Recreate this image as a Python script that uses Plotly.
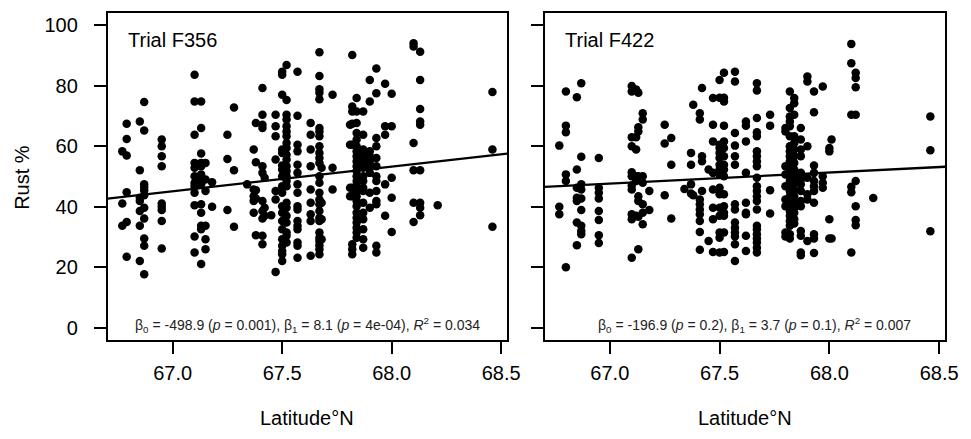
"""
Rust % against latitude for two trials (F356, F422), R-style base graphics look.
"""
import plotly.graph_objects as go

# latitude of each column of points and the rust values stacked in it
F356_LAT = [66.77, 66.79, 66.85, 66.87, 66.95, 67.10, 67.13, 67.15, 67.18, 67.25,
            67.28, 67.34, 67.37, 67.38, 67.41, 67.42, 67.45, 67.47, 67.50, 67.52,
            67.57, 67.63, 67.67, 67.68, 67.73, 67.81, 67.82, 67.84, 67.87, 67.90,
            67.93, 67.97, 68.00, 68.10, 68.13, 68.21, 68.46]
F356_RUST = [
    [58.3, 41.1, 33.7],
    [67.4, 62.4, 56.9, 44.8, 35.0, 23.5],
    [68.2, 52.1, 43.0, 41.9, 38.6, 33.7, 22.1],
    [74.6, 65.2, 47.4, 46.5, 45.5, 43.8, 39.7, 36.1, 29.5, 27.1, 17.7],
    [62.2, 60.0, 56.7, 53.4, 41.1, 40.0, 38.9, 35.3, 26.2],
    [83.6, 74.8, 63.8, 54.5, 52.9, 50.1, 47.9, 46.8, 44.6, 40.5, 30.2, 24.9],
    [74.8, 66.0, 57.6, 54.5, 53.4, 50.7, 49.0, 47.4, 40.8, 38.0, 33.7, 32.6, 21.1],
    [54.5, 49.0, 45.2, 33.7, 29.3, 26.0],
    [48.1, 40.0],
    [63.8, 55.8, 38.9],
    [72.8, 52.1, 33.4],
    [47.4],
    [58.9, 45.7, 43.5, 41.9, 38.0],
    [67.7, 54.7, 45.5, 42.7, 30.6],
    [79.2, 70.4, 67.1, 66.0, 53.4, 51.2, 41.9, 38.6, 36.1, 30.4, 27.6],
    [49.6, 39.7, 37.0],
    [37.2],
    [70.4, 66.6, 63.3, 55.6, 45.2, 42.4, 18.5],
    [84.6, 83.6, 77.0, 58.9, 57.8, 53.6, 52.3, 50.1, 46.8, 44.6, 40.2, 38.0, 35.3,
     32.6, 29.3, 27.1, 25.4, 24.3, 22.1],
    [86.8, 75.3, 70.4, 68.8, 66.6, 64.9, 63.3, 61.1, 59.4, 57.2, 55.6, 53.4, 51.8,
     50.1, 48.5, 46.8, 41.3, 39.7, 37.0, 34.8, 31.5, 30.4, 28.2],
    [84.6, 70.1, 60.5, 58.3, 53.9, 51.2, 47.4, 44.6, 40.2, 39.1, 35.3, 33.7, 32.6,
     28.2, 27.1, 23.2],
    [67.7, 63.8, 58.9, 53.4, 45.7, 41.3, 37.5, 35.3, 23.8],
    [91.0, 83.2, 78.8, 77.7, 75.5, 66.0, 64.9, 63.3, 60.0, 57.8, 56.1, 54.5, 50.1,
     47.9, 44.6, 42.4, 40.8, 38.6, 36.4, 35.3, 31.5, 29.8, 28.7, 27.3, 26.0, 24.3],
    [52.9, 41.3, 35.9, 29.3],
    [77.0, 52.9, 45.7],
    [67.1, 60.5, 46.3, 43.5],
    [90.1, 73.1, 71.5, 67.4, 60.5, 46.3, 43.5, 27.6, 26.0, 24.3],
    [75.9, 71.5, 67.7, 64.4, 62.2, 60.0, 58.3, 56.7, 55.0, 53.4, 51.8, 50.1, 48.5,
     46.8, 45.2, 43.5, 41.9, 40.2, 38.0, 36.4, 34.8, 33.1, 31.5, 29.8],
    [71.5, 63.8, 58.9, 57.2, 56.1, 54.5, 52.9, 50.1, 48.5, 46.3, 45.2, 41.3, 38.0,
     35.9, 32.6, 29.3, 26.5],
    [81.9, 74.8, 58.3, 56.7, 55.0, 53.4, 51.2, 44.6, 39.7],
    [85.7, 77.5, 62.7, 60.0, 56.1, 53.4, 50.1, 48.5, 45.2, 41.9, 40.8, 27.1, 24.9],
    [80.6, 66.6, 63.8, 47.4, 37.0],
    [77.3, 66.6, 49.6, 43.0, 31.7],
    [94.0, 92.9, 61.1, 52.1, 41.3, 35.0],
    [91.2, 81.9, 72.3, 68.2, 67.1, 52.1, 41.3, 39.7, 37.2],
    [40.5],
    [77.9, 58.9, 33.4],
]

F422_LAT = [66.77, 66.80, 66.85, 66.87, 66.95, 67.10, 67.12, 67.13, 67.15, 67.18,
            67.25, 67.28, 67.34, 67.37, 67.38, 67.41, 67.42, 67.45, 67.47, 67.50,
            67.52, 67.57, 67.62, 67.67, 67.73, 67.80, 67.82, 67.84, 67.87, 67.90,
            67.93, 67.97, 68.00, 68.01, 68.10, 68.12, 68.20, 68.46]
F422_RUST = [
    [60.2, 40.0, 37.5],
    [78.1, 66.8, 64.6, 50.7, 48.5, 20.0],
    [76.2, 52.3, 46.3, 43.0, 41.9, 34.8, 27.3],
    [80.8, 56.5, 47.4, 45.7, 42.7, 38.9, 33.7, 32.0, 30.9],
    [56.1, 46.3, 44.6, 42.7, 38.6, 35.6, 30.6, 28.0],
    [79.9, 78.1, 63.0, 60.0, 51.4, 50.1, 47.0, 45.7, 37.5, 35.9, 23.2],
    [78.7, 63.0, 58.9, 50.1, 48.5, 37.0],
    [77.7, 66.3, 64.9, 50.1, 43.5, 41.9, 36.7, 26.0],
    [70.9, 68.8, 50.1, 47.9, 40.8, 38.0, 34.2],
    [45.2, 38.9],
    [67.1, 60.9, 43.8],
    [62.7, 53.9, 36.1],
    [45.9],
    [57.8, 53.9, 47.4, 44.4],
    [73.7, 43.8],
    [70.9, 68.8, 42.4, 40.8, 39.1, 37.5, 35.3, 31.7, 25.8],
    [79.2, 56.7, 55.0, 45.2],
    [52.3, 28.7],
    [75.9, 67.1, 61.6, 51.2, 45.7, 39.7, 35.9, 25.1],
    [81.9, 76.0, 60.5, 59.4, 57.8, 56.1, 53.9, 52.3, 50.7, 46.3, 44.1, 39.7, 37.0,
     31.5, 29.8, 24.9],
    [84.3, 76.0, 74.8, 66.8, 61.6, 59.4, 56.7, 53.9, 52.3, 50.1, 44.1, 40.2, 38.0,
     37.0, 31.5, 25.1],
    [84.6, 81.4, 64.4, 60.2, 56.7, 53.9, 40.8, 39.1, 34.8, 33.1, 31.5, 30.2, 27.6, 22.1],
    [68.2, 66.8, 61.6, 51.2, 41.3, 38.0, 37.5, 30.4, 25.4],
    [80.8, 78.4, 69.3, 64.6, 63.3, 58.3, 56.7, 55.0, 53.4, 49.6, 46.8, 45.2, 43.5,
     41.9, 39.1, 33.7, 32.6, 30.9, 29.5, 28.2, 26.5, 24.9],
    [70.4, 66.8, 45.5, 37.8],
    [66.0, 64.9, 53.4, 50.7, 46.8, 42.4, 40.2, 31.5, 30.2],
    [78.1, 72.6, 69.8, 68.2, 66.6, 63.3, 60.0, 58.3, 56.7, 55.0, 53.4, 51.8, 50.1,
     48.5, 46.8, 45.2, 43.5, 41.9, 40.2, 38.6, 37.0, 35.3, 33.7, 30.9, 29.5],
    [75.9, 74.2, 70.4, 63.3, 61.1, 58.9, 56.7, 54.5, 52.3, 50.1, 47.9, 45.7, 43.5,
     41.3, 39.7, 38.0, 35.9, 34.5],
    [66.0, 62.2, 58.9, 56.7, 51.2, 49.0, 47.4, 45.2, 41.9, 40.2, 32.0, 30.4, 24.9, 24.0],
    [83.0, 81.4, 60.0, 49.6, 44.1, 42.4, 28.7],
    [78.1, 71.2, 53.6, 51.2, 48.5, 46.8, 45.2, 41.3, 30.9, 29.5, 24.7],
    [79.7, 50.1, 47.9, 46.3],
    [59.4, 58.3, 35.9, 29.5],
    [62.2, 29.5],
    [93.8, 87.4, 70.4, 46.6, 44.8, 24.9],
    [84.3, 82.5, 79.5, 70.4, 48.5, 40.2, 35.6, 33.9],
    [42.9],
    [69.8, 58.7, 31.9],
]

# regression line (intercept, slope) as drawn
F356_FIT = (-498.9, 8.12)
F422_FIT = (-196.9, 3.65)

X_RANGE = [66.703, 68.527]
Y_RANGE = [-4, 104]
X_TICKS = [67.0, 67.5, 68.0, 68.5]
X_TICKTEXT = ["67.0", "67.5", "68.0", "68.5"]
Y_TICKS = [0, 20, 40, 60, 80, 100]

FONT = "Liberation Sans, Arial, sans-serif"

# page body keeps an 8px margin, so the figure is sized to fit inside it
W, H = 955, 423


def expand(lats, rust):
    xs, ys = [], []
    for lat, vals in zip(lats, rust):
        xs += [lat] * len(vals)
        ys += vals
    return xs, ys


fig = go.Figure()

panels = [
    ("Trial F356", F356_LAT, F356_RUST, F356_FIT, "x", "y", 0.3173,
     "β<sub>0</sub> = -498.9 (<i>p</i> = 0.001), β<sub>1</sub> = 8.1 (<i>p</i> = 4e-04), <i>R</i><sup>2</sup> = 0.034", 67.616),
    ("Trial F422", F422_LAT, F422_RUST, F422_FIT, "x2", "y2", 0.7822,
     "β<sub>0</sub> = -196.9 (<i>p</i> = 0.2), β<sub>1</sub> = 3.7 (<i>p</i> = 0.1), <i>R</i><sup>2</sup> = 0.007", 67.658),
]

annotations = []
for name, lats, rust, fit, xa, ya, title_x, stats, stats_x in panels:
    xs, ys = expand(lats, rust)
    fig.add_trace(go.Scatter(
        x=xs, y=ys, mode="markers", xaxis=xa, yaxis=ya, showlegend=False,
        marker=dict(size=8.5, color="black", line=dict(width=0)),
    ))
    b0, b1 = fit
    fig.add_trace(go.Scatter(
        x=X_RANGE, y=[b0 + b1 * X_RANGE[0], b0 + b1 * X_RANGE[1]],
        mode="lines", xaxis=xa, yaxis=ya, showlegend=False,
        line=dict(color="black", width=2.3),
    ))
    annotations.append(dict(
        text=name, xref=xa + " domain", yref=ya + " domain", x=0.045, y=0.918,
        xanchor="left", yanchor="middle", showarrow=False,
        font=dict(family=FONT, size=20, color="black"),
    ))
    annotations.append(dict(
        text=stats, xref=xa, yref=ya + " domain", x=stats_x, y=0.047,
        xanchor="center", yanchor="middle", showarrow=False,
        font=dict(family=FONT, size=14, color="#222"),
    ))
    annotations.append(dict(
        text="Latitude°N", xref="paper", yref="paper", x=title_x, y=0.0,
        xanchor="center", yanchor="bottom", showarrow=False,
        font=dict(family=FONT, size=20, color="black"),
    ))

annotations.append(dict(
    text="Rust %", xref="paper", yref="paper", x=0.0147, y=0.6005, textangle=-90,
    xanchor="center", yanchor="middle", showarrow=False,
    font=dict(family=FONT, size=20, color="black"),
))

xaxis_style = dict(
    range=X_RANGE, tickvals=X_TICKS, ticktext=X_TICKTEXT, ticks="outside", ticklen=12,
    tickwidth=1.5, tickcolor="black", showline=True, linecolor="black", linewidth=1.6,
    mirror=True, showgrid=False, zeroline=False, ticklabelstandoff=2,
    tickfont=dict(family=FONT, size=20, color="black"),
)
yaxis_style = dict(
    range=Y_RANGE, tickvals=Y_TICKS, ticks="outside", ticklen=12,
    tickwidth=1.5, tickcolor="black", showline=True, linecolor="black", linewidth=1.6,
    mirror=True, showgrid=False, zeroline=False, ticklabelstandoff=12,
    tickfont=dict(family=FONT, size=20, color="black"),
)

fig.update_layout(
    width=W, height=H, autosize=False,
    margin=dict(l=0, r=0, t=0, b=0),
    paper_bgcolor="white", plot_bgcolor="white",
    xaxis=dict(domain=[0.10576, 0.52984], anchor="y", **xaxis_style),
    yaxis=dict(domain=[0.21513, 0.98818], anchor="x", **yaxis_style),
    xaxis2=dict(domain=[0.56963, 0.99476], anchor="y2", **xaxis_style),
    yaxis2=dict(domain=[0.21513, 0.98818], anchor="x2", showticklabels=False, **yaxis_style),
    annotations=annotations,
)

fig.write_html("out.html")
